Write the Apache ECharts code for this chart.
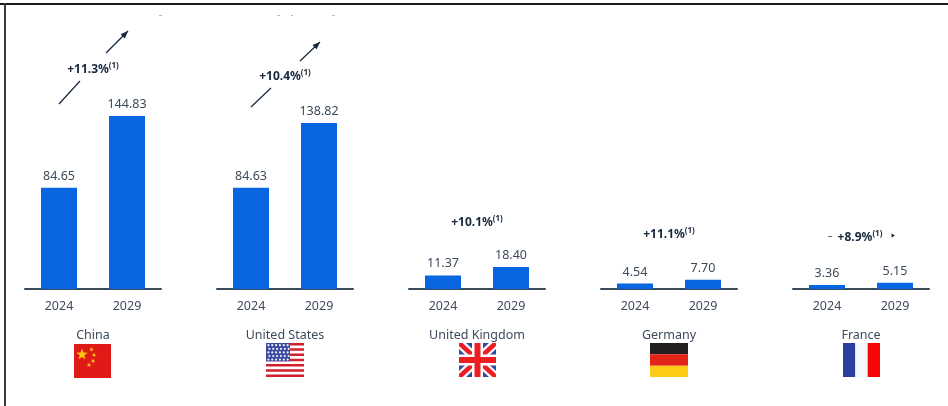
<!DOCTYPE html>
<html>
<head>
<meta charset="utf-8">
<style>html,body{margin:0;padding:0;background:#fff}#chart{width:948px;height:406px}</style>
<script src="https://cdn.jsdelivr.net/npm/echarts@6/dist/echarts.min.js"></script>
</head>
<body>
<div id="chart"></div>
<script>
// Market size by country, 2024 and 2029, with growth rate annotations
const years = ['2024', '2029'];
const countries = ['China', 'United States', 'United Kingdom', 'Germany', 'France'];
const china = [84.65, 144.83];
const unitedStates = [84.63, 138.82];
const unitedKingdom = [11.37, 18.40];
const germany = [4.54, 7.70];
const france = [3.36, 5.15];
const growth = ['+11.3%', '+10.4%', '+10.1%', '+11.1%', '+8.9%'];
const footnote = '(1)';

const seriesValues = [china, unitedStates, unitedKingdom, germany, france];
const BLUE = '#0866e0', INK = '#3d4a5a', DARK = '#15273d', AXIS = '#3a4a58';
const panelLeft = [25, 217, 409, 601, 793];
const panelWidth = 136, axisY = 289, plotH = 239;
const growthPos = [[93, 70], [285, 77], [477, 223], [669, 235], [860, 238]];

const chart = echarts.init(document.getElementById('chart'), null, { renderer: 'canvas' });

const grids = [], xAxes = [], yAxes = [], series = [];
seriesValues.forEach((vals, i) => {
  grids.push({ left: panelLeft[i], width: panelWidth, top: axisY - plotH, height: plotH });
  xAxes.push({
    type: 'category', gridIndex: i, data: years,
    axisTick: { show: false },
    axisLine: { lineStyle: { color: AXIS, width: 2 } },
    axisLabel: { color: INK, fontFamily: 'Noto Sans', fontSize: 12.5, margin: 11 },
    name: countries[i], nameLocation: 'middle', nameGap: 40,
    nameTextStyle: { color: INK, fontFamily: 'Noto Sans', fontSize: 12.5 }
  });
  yAxes.push({ type: 'value', gridIndex: i, min: 0, max: 200, show: false, splitLine: { show: false } });
  series.push({
    type: 'bar', xAxisIndex: i, yAxisIndex: i, data: vals, barWidth: 36,
    itemStyle: { color: BLUE }, silent: true,
    label: {
      show: true, position: 'top', distance: 5, color: INK,
      fontFamily: 'Noto Sans', fontSize: 12.5,
      formatter: p => p.value.toFixed(2)
    }
  });
});

// Helpers for the small flag drawings under each panel
const rect = (x, y, w, h, fill) => ({ type: 'rect', silent: true, shape: { x, y, width: w, height: h }, style: { fill } });
const poly = (points, fill) => ({ type: 'polygon', silent: true, shape: { points }, style: { fill } });
const starPts = (cx, cy, r, rot) => {
  const pts = [];
  for (let k = 0; k < 10; k++) {
    const rad = k % 2 ? r * 0.4 : r;
    const a = -Math.PI / 2 + rot + k * Math.PI / 5;
    pts.push([cx + rad * Math.cos(a), cy + rad * Math.sin(a)]);
  }
  return pts;
};

function flagChina(x, y, w, h) {
  const out = [rect(x, y, w, h, '#e01a17')];
  out.push(poly(starPts(x + 8, y + 10.5, 6, 0), '#fcc80c'));
  [[17.5, 5.5], [20, 11], [19, 17], [15, 21]].forEach(p => out.push(poly(starPts(x + p[0], y + p[1], 2.4, 0.4), '#fcc80c')));
  return out;
}
function flagUS(x, y, w, h) {
  const out = [rect(x, y, w, h, '#ffffff')];
  const sh = h / 13;
  for (let k = 0; k < 13; k += 2) out.push(rect(x, y + k * sh, w, sh, '#d2202f'));
  const cw = 24, ch = sh * 7;
  out.push(rect(x, y, cw, ch, '#3a4a9e'));
  for (let r = 0; r < 5; r++) {
    for (let c = 0; c < 6; c++) {
      out.push({ type: 'circle', silent: true, shape: { cx: x + 2.4 + c * 3.85 + (r % 2 ? 1 : 0), cy: y + 2.2 + r * 3.6, r: 1.1 }, style: { fill: '#eef0fa' } });
    }
  }
  return out;
}
function flagUK(x, y, w, h) {
  const x1 = x + w, y1 = y + h;
  const band = (d, e, fill) => [
    poly([[x, y], [x + d, y], [x1, y1 - e], [x1, y1], [x1 - d, y1], [x, y + e]], fill),
    poly([[x1, y], [x1 - d, y], [x, y1 - e], [x, y1], [x + d, y1], [x1, y + e]], fill)
  ];
  return [
    rect(x, y, w, h, '#2f4a9f'),
    ...band(7, 6, '#ffffff'),
    ...band(3.6, 3, '#ee1c25'),
    rect(x + w / 2 - 5.5, y, 11, h, '#ffffff'),
    rect(x, y + h / 2 - 5.5, w, 11, '#ffffff'),
    rect(x + w / 2 - 3, y, 6, h, '#ee1c25'),
    rect(x, y + h / 2 - 3, w, 6, '#ee1c25')
  ];
}
function flagDE(x, y, w, h) {
  return [rect(x, y, w, h / 3, '#231f20'), rect(x, y + h / 3, w, h / 3, '#e2231a'), rect(x, y + 2 * h / 3, w, h / 3, '#fdcb16')];
}
function flagFR(x, y, w, h) {
  return [rect(x, y, w / 3, h, '#2b3f9e'), rect(x + w / 3, y, w / 3, h, '#f4f7fb'), rect(x + 2 * w / 3, y, w / 3, h, '#f80606')];
}

// Dark growth arrows
function arrowLine(x0, y0, x1, y1, head) {
  const out = [{ type: 'line', silent: true, shape: { x1: x0, y1: y0, x2: x1, y2: y1 }, style: { stroke: DARK, lineWidth: 1.2 } }];
  if (head) {
    const a = Math.atan2(y1 - y0, x1 - x0), L = 7.5, W = 3;
    const bx = x1 - L * Math.cos(a), by = y1 - L * Math.sin(a);
    out.push(poly([[x1, y1], [bx - W * Math.sin(a), by + W * Math.cos(a)], [bx + W * Math.sin(a), by - W * Math.cos(a)]], DARK));
  }
  return out;
}

const graphic = [
  // page frame, top and left sides only
  rect(0, 3, 948, 2, '#1a1a1a'),
  rect(4, 3, 2, 403, '#3a3a3a'),
  ...arrowLine(59, 104, 80, 81, false), ...arrowLine(106, 53, 128, 31, true),
  ...arrowLine(251, 107, 271, 88, false), ...arrowLine(300, 61, 320, 42, true),
  // leftover marks beside the smaller panels and along the top
  ...[[159, 3], [277, 3], [291, 2], [332, 3]].map(d => rect(d[0], 15, d[1], 1, '#b8bcc2')),
  rect(828, 236, 4, 1, '#5a6470'),
  poly([[895, 235.5], [891.5, 233.5], [891.5, 237.5]], DARK),
  ...flagChina(74, 344, 37, 34),
  ...flagUS(266, 343, 38, 34),
  ...flagUK(459, 343, 37, 34),
  ...flagDE(650, 343, 38, 34),
  ...flagFR(843, 343, 37, 34)
];

growth.forEach((g, i) => {
  graphic.push({
    type: 'text', silent: true, x: growthPos[i][0], y: growthPos[i][1],
    style: {
      text: '{m|' + g + '}{s|' + footnote + '}', align: 'center', verticalAlign: 'middle',
      rich: {
        m: { fontFamily: 'Noto Sans', fontWeight: 'bold', fontSize: 12, fill: DARK, lineHeight: 16 },
        s: { fontFamily: 'Noto Sans', fontSize: 8, fontWeight: 'bold', fill: DARK, verticalAlign: 'top', lineHeight: 16 }
      }
    }
  });
});

chart.setOption({
  animation: false, backgroundColor: '#fff',
  grid: grids, xAxis: xAxes, yAxis: yAxes, series, graphic
});
</script>
</body>
</html>
